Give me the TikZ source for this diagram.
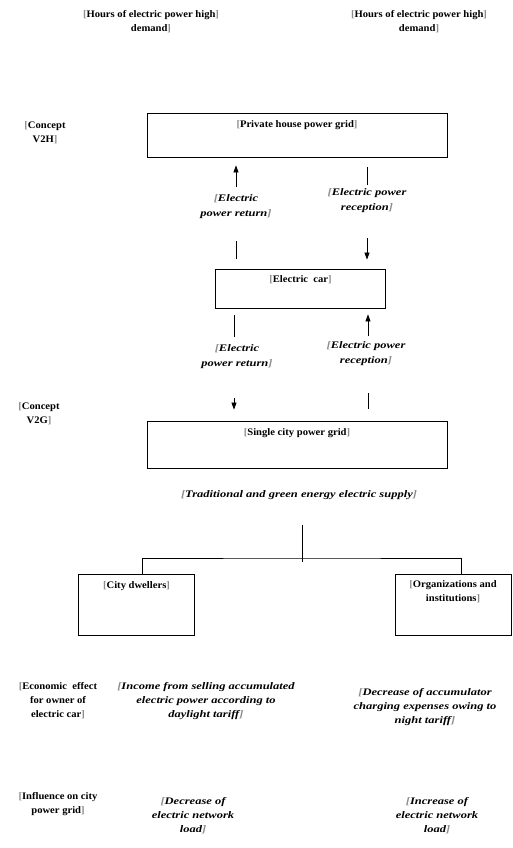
\documentclass[tikz,border=0pt]{standalone}
\usepackage{fontspec}
\setmainfont{Liberation Serif}
\newfontfamily\wideserif{Liberation Serif}[FakeStretch=1.06]
\newfontfamily\wideital{Liberation Serif}[FakeStretch=1.25]
\usetikzlibrary{arrows.meta,positioning,calc}
\definecolor{markgray}{HTML}{8C8C8C}
\newcommand{\bmk}[1]{\textcolor{markgray}{[}#1\textcolor{markgray}{]}}
\newcommand{\bmo}{\textcolor{markgray}{[}}
\newcommand{\bmc}{\textcolor{markgray}{]}}
\tikzset{
  txt/.style={align=center, inner sep=0pt, font=\wideserif\fontsize{10}{14}\selectfont\bfseries},
  flow/.style={txt, font=\wideital\fontsize{10}{15}\selectfont\bfseries\itshape},
  effect/.style={txt, font=\wideital\fontsize{10}{14}\selectfont\bfseries\itshape},
  gridbox/.style={draw, line width=0.8pt, minimum width=300pt, minimum height=44pt},
  userbox/.style={draw, line width=0.8pt, minimum width=116pt, minimum height=61pt},
  plain/.style={line width=0.7pt},
  arrow/.style={plain, -{Triangle[length=7pt,width=5pt]}},
}
\begin{document}
\begin{tikzpicture}[x=1pt,y=-1pt]
\useasboundingbox (0,0) rectangle (513,848);

% peak demand hours
\node[txt] (peakL) at (151,22) {\bmk{Hours of electric power high}\\demand\bmc};
\node[txt] (peakR) at (419,22) {\bmk{Hours of electric power high}\\demand\bmc};

% V2H part
\node[txt] (v2h) at (45,133) {\bmo Concept\\V2H\bmc};
\node[gridbox] (house) at (297,135) {};
\node[txt, below=8pt of house.north] (housetxt) {\bmk{Private house power grid}};

\node[gridbox, minimum width=170pt, minimum height=39pt] (car) at (300.5,288.5) {};
\node[txt, below=7pt of car.north] (cartxt) {\bmk{Electric\ \ car}};

\node[flow] (ret1) at (236,207) {\bmo Electric\\power return\bmc};
\node[flow] (rec1) at (367,201) {\bmo Electric power\\reception\bmc};

\draw[plain, shorten <=10pt, shorten >=22pt] (car.north -| ret1) -- (ret1.south);
\draw[arrow, shorten <=8pt, shorten >=8pt] (ret1.north) -- (house.south -| ret1);
\draw[plain, shorten <=10pt, shorten >=4pt] (house.south -| rec1) -- (rec1.north);
\draw[arrow, shorten <=25pt, shorten >=9pt] (rec1.south) -- (car.north -| rec1);

% V2G part
\node[txt] (v2g) at (39,414) {\bmo Concept\\V2G\bmc};
\node[gridbox, minimum height=47pt] (city) at (297,444.5) {};
\node[txt, below=8pt of city.north] (citytxt) {\bmk{Single city power grid}};

\node[flow] (ret2) at (237,357) {\bmo Electric\\power return\bmc};
\node[flow] (rec2) at (366,354) {\bmo Electric power\\reception\bmc};

\draw[plain, shorten <=7pt, shorten >=8pt] (car.south -| 234,0) -- (ret2.north -| 234,0);
\draw[arrow, shorten <=29pt, shorten >=11pt] (ret2.south -| 234,0) -- (city.north -| 234,0);
\draw[arrow, shorten <=6pt, shorten >=6pt] (rec2.north -| 368,0) -- (car.south -| 368,0);
\draw[plain, shorten <=27pt, shorten >=12pt] (rec2.south -| 368,0) -- (city.north -| 368,0);

% supply and users
\node[flow] (supply) at (299,495) {\bmk{Traditional and green energy electric supply}};
\coordinate (fork) at (302,558);
\node[userbox] (dwellers) at (136.5,604.5) {};
\node[txt, below=8pt of dwellers.north] (dwelltxt) {\bmk{City dwellers}};
\node[userbox] (orgs) at (453,604.5) {};
\node[txt, below=7pt of orgs.north] (orgstxt) {\bmo Organizations and\\institutions\bmc};

\draw[plain, shorten <=25pt] (supply.south -| fork) -- ($(fork)+(0,4)$);
\draw[plain] ($(dwellers.north)+(5.5,0)$) |- (fork) -| ($(orgs.north)+(8,0)$);

% effects
\node[txt] (econ) at (58,701) {\bmo Economic\ \ effect\\for owner of\\electric car\bmc};
\node[effect] (income) at (206,701) {\bmo Income from selling accumulated\\electric power according to\\daylight tariff\bmc};
\node[effect] (charge) at (425,707) {\bmo Decrease of accumulator\\charging expenses owing to\\night tariff\bmc};

\node[txt] (influence) at (58,804) {\bmo Influence on city\\power grid\bmc};
\node[effect] (loaddown) at (193,816) {\bmo Decrease of\\electric network\\load\bmc};
\node[effect] (loadup) at (437,816) {\bmo Increase of\\electric network\\load\bmc};
\end{tikzpicture}
\end{document}
